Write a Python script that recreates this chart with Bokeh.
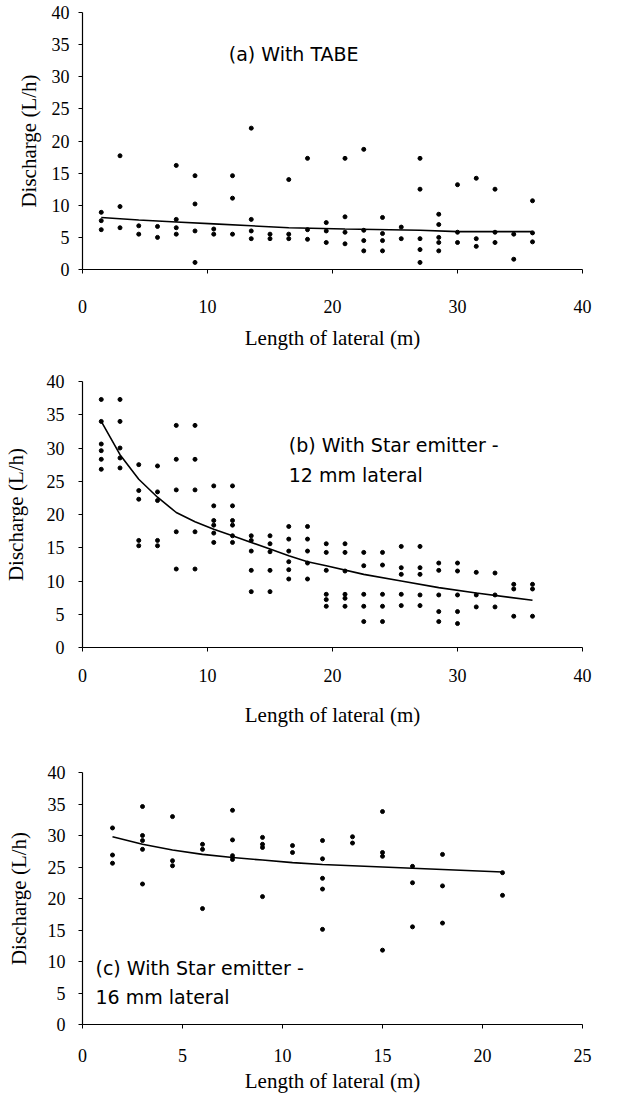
from bokeh.plotting import figure
from bokeh.layouts import column
from bokeh.models import Range1d, FixedTicker
from bokeh.core.properties import value
from bokeh.embed import file_html
from bokeh.resources import INLINE

# ---------------- data ----------------
# (a) With TABE
a_stations = [1.5, 3, 4.5, 6, 7.5, 9, 10.5, 12, 13.5, 15, 16.5, 18,
              19.5, 21, 22.5, 24, 25.5, 27, 28.5, 30, 31.5, 33, 34.5, 36]
a_discharge = [
    [8.9, 7.6, 6.2], [17.7, 9.8, 6.5], [6.8, 5.5], [6.7, 5.0],
    [16.2, 7.8, 6.5, 5.5], [14.6, 10.2, 6.0, 1.1], [6.3, 5.5], [14.6, 11.1, 5.5],
    [22.0, 7.8, 6.0, 4.8], [5.5, 4.8], [14.0, 5.5, 4.8], [17.3, 6.2, 4.7],
    [7.3, 6.0, 4.2], [17.3, 8.2, 5.8, 4.0], [18.7, 6.1, 4.5, 2.9], [8.1, 5.6, 4.5, 2.9],
    [6.6, 4.8], [17.3, 12.5, 4.8, 3.1, 1.1], [8.6, 7.0, 5.0, 4.2, 2.9], [13.2, 5.8, 4.2],
    [14.2, 4.8, 3.6], [12.5, 5.8, 4.2], [5.5, 1.6], [10.7, 5.7, 4.3],
]
a_trend_x = [1.5, 4.5, 7.5, 10.5, 13.5, 16.5, 21, 27, 30, 36]
a_trend_y = [8.1, 7.7, 7.4, 7.1, 6.8, 6.5, 6.3, 6.1, 5.9, 5.9]

# (b) With Star emitter - 12 mm lateral
b_stations = a_stations
b_discharge = [
    [37.3, 34.0, 30.6, 29.6, 28.3, 26.8], [37.3, 34.0, 30.0, 28.5, 27.0],
    [27.5, 23.6, 22.3, 16.1, 15.3], [27.3, 23.4, 22.1, 16.1, 15.3],
    [33.4, 28.3, 23.7, 17.4, 11.8], [33.4, 28.3, 23.7, 17.4, 11.8],
    [24.3, 21.3, 19.1, 18.4, 17.2, 15.8], [24.3, 21.3, 19.1, 18.4, 16.8, 15.8],
    [16.8, 16.1, 14.5, 11.6, 8.4], [16.8, 15.6, 14.4, 11.6, 8.4],
    [18.2, 16.3, 14.5, 12.9, 11.7, 10.3], [18.2, 16.3, 14.5, 12.7, 10.3],
    [15.6, 14.3, 11.6, 8.0, 7.2, 6.2], [15.6, 14.3, 11.5, 8.0, 7.4, 6.2],
    [14.3, 12.3, 8.0, 6.2, 3.9], [14.3, 12.4, 8.0, 6.2, 3.9],
    [15.2, 12.0, 11.0, 8.0, 6.3], [15.2, 12.0, 11.0, 7.9, 6.3],
    [12.7, 11.6, 7.9, 5.4, 3.9], [12.7, 11.5, 7.9, 5.4, 3.6],
    [11.3, 7.9, 6.1], [11.2, 7.9, 6.1],
    [9.5, 8.8, 4.7], [9.5, 8.8, 4.7],
]
b_trend_x = [1.5, 3, 4.5, 6, 7.5, 9, 10.5, 12, 13.5, 15, 16.5, 18, 19.5, 22.5, 25.5, 28.5, 31.5, 36]
b_trend_y = [34.0, 29.0, 25.3, 22.6, 20.3, 18.9, 17.8, 16.8, 15.8, 14.8, 13.8, 12.9, 12.3, 11.0, 10.0, 9.0, 8.2, 7.1]

# (c) With Star emitter - 16 mm lateral
c_stations = [1.5, 3, 4.5, 6, 7.5, 9, 10.5, 12, 13.5, 15, 16.5, 18, 21]
c_discharge = [
    [31.2, 26.9, 25.6], [34.6, 30.0, 29.2, 27.8, 22.3], [33.0, 26.0, 25.2],
    [28.6, 27.8, 18.4], [34.0, 29.3, 26.8, 26.2], [29.7, 28.6, 28.1, 20.3],
    [28.4, 27.3], [29.2, 26.3, 23.2, 21.5, 15.1], [29.8, 28.8],
    [33.8, 27.3, 26.7, 11.8], [25.1, 22.5, 15.5], [27.0, 22.0, 16.1], [24.1, 20.5],
]
c_trend_x = [1.5, 3, 4.5, 6, 7.5, 9, 10.5, 12, 13.5, 15, 16.5, 18, 21]
c_trend_y = [29.8, 28.6, 27.7, 27.0, 26.5, 26.1, 25.7, 25.4, 25.2, 25.0, 24.8, 24.6, 24.2]

y_ticks = [0, 5, 10, 15, 20, 25, 30, 35, 40]
x_ticks_ab = [0, 10, 20, 30, 40]
x_ticks_c = [0, 5, 10, 15, 20, 25]

x_label = "Length of lateral (m)"
y_label = "Discharge (L/h)"

SERIF = "Liberation Serif"
SANS = "DejaVu Sans"


def flatten(stations, values):
    xs, ys = [], []
    for s, vals in zip(stations, values):
        for v in vals:
            xs.append(s)
            ys.append(v)
    return xs, ys


def panel(height, xmax, xticks, bl, br, bt, bb, tick_sd, lab_sd, ytick_sd, ylab_sd):
    p = figure(width=602, height=height, output_backend="svg", toolbar_location=None,
               x_range=Range1d(0, xmax), y_range=Range1d(0, 40),
               min_border_left=bl, min_border_right=br, min_border_top=bt, min_border_bottom=bb)
    p.outline_line_color = None
    p.grid.visible = False
    p.background_fill_color = "white"
    p.border_fill_color = "white"
    p.xaxis.ticker = FixedTicker(ticks=xticks)
    p.yaxis.ticker = FixedTicker(ticks=y_ticks)
    p.xaxis.axis_label = x_label
    p.yaxis.axis_label = y_label
    for ax in (p.xaxis[0], p.yaxis[0]):
        ax.axis_line_color = "black"
        ax.axis_line_width = 1.2
        ax.major_tick_line_color = "black"
        ax.major_tick_in = 0
        ax.major_tick_out = 4
        ax.minor_tick_in = 0
        ax.minor_tick_out = 0
        ax.major_label_text_font = SERIF
        ax.major_label_text_font_size = "18px"
        ax.major_label_text_color = "black"
        ax.axis_label_text_font = SERIF
        ax.axis_label_text_font_style = "normal"
        ax.axis_label_text_font_size = "21px"
        ax.axis_label_text_color = "black"
    p.xaxis.major_label_standoff = tick_sd
    p.xaxis.axis_label_standoff = lab_sd
    p.yaxis.major_label_standoff = ytick_sd
    p.yaxis.axis_label_standoff = ylab_sd
    return p


def add_text(p, x, y, txt):
    p.text(x=[x], y=[y], text=[txt], text_font=value(SANS), text_font_size=value("19px"),
           text_color="black", text_align="left", text_baseline="middle")


# Panel (a)
pa = panel(357, 40, x_ticks_ab, 81, 2, 12, 88, 26, 10, 9, 8)
ax_, ay_ = flatten(a_stations, a_discharge)
pa.scatter(ax_, ay_, marker="circle", size=4, color="black")
pa.line(a_trend_x, a_trend_y, line_color="black", line_width=1.6)
add_text(pa, 11.7, 33.5, "(a) With TABE")

# Panel (b)
pb = panel(380, 40, x_ticks_ab, 80, 20, 24, 90, 17, 18, 14, 16)
bx_, by_ = flatten(b_stations, b_discharge)
pb.scatter(bx_, by_, marker="circle", size=4, color="black")
pb.line(b_trend_x, b_trend_y, line_color="black", line_width=1.6)
add_text(pb, 16.5, 30.4, "(b) With Star emitter -")
add_text(pb, 16.5, 25.9, "12 mm lateral")

# Panel (c)
pc = panel(363, 25, x_ticks_c, 78, 15, 35, 76, 20, 4, 13, 14)
cx_, cy_ = flatten(c_stations, c_discharge)
pc.scatter(cx_, cy_, marker="circle", size=4, color="black")
pc.line(c_trend_x, c_trend_y, line_color="black", line_width=1.6)
add_text(pc, 0.65, 9.0, "(c) With Star emitter -")
add_text(pc, 0.65, 4.3, "16 mm lateral")

layout = column(pa, pb, pc, spacing=0)
open("out.html", "w").write(file_html(layout, INLINE))
